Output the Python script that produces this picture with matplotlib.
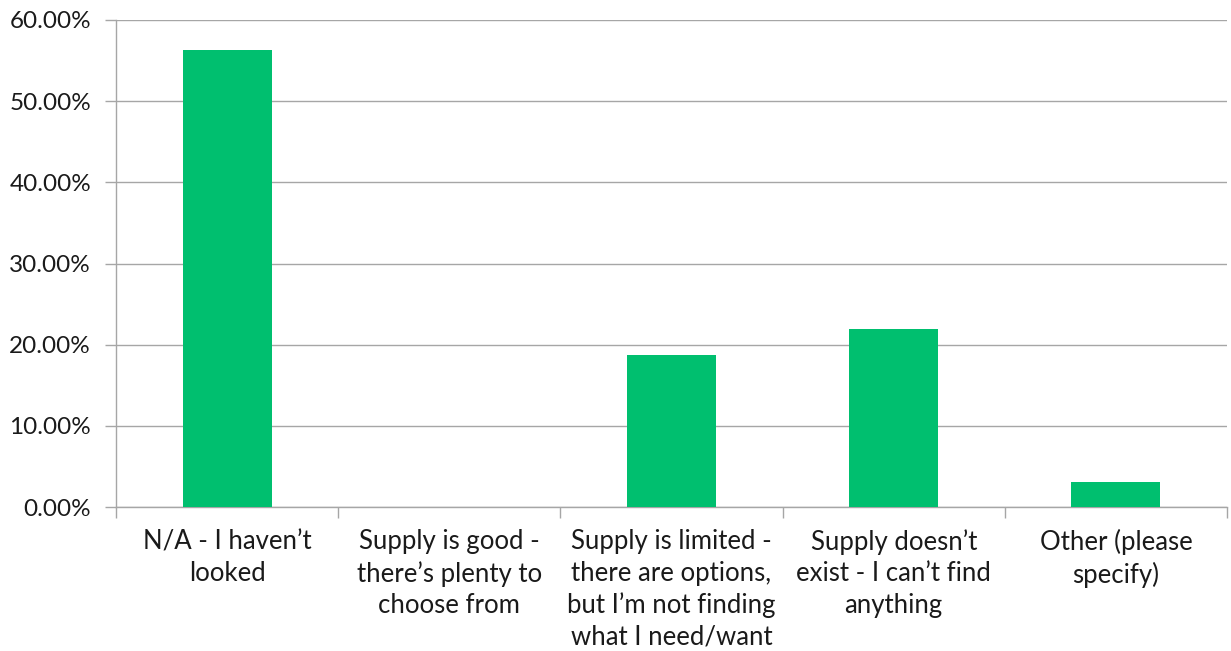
import matplotlib
matplotlib.use("Agg")
import matplotlib.pyplot as plt
from matplotlib.ticker import FuncFormatter, FixedLocator

categories = [
    "N/A - I haven\u2019t\nlooked",
    "Supply is good -\nthere\u2019s plenty to\nchoose from",
    "Supply is limited -\nthere are options,\nbut I\u2019m not finding\nwhat I need/want",
    "Supply doesn\u2019t\nexist - I can\u2019t find\nanything",
    "Other (please\nspecify)",
]
values = [56.25, 0.0, 18.75, 21.88, 3.13]
yticks = [0, 10, 20, 30, 40, 50, 60]

plt.rcParams['font.family'] = ['Lato', 'DejaVu Sans']

fig = plt.figure(figsize=(12.31, 6.51), dpi=100)
ax = fig.add_axes([116/1231, 1-507/651, (1227-116)/1231, (507-20)/651])

x = list(range(len(categories)))
ax.bar(x, values, width=0.4, color="#00BF6F", zorder=3)

ax.set_xlim(-0.5, len(categories) - 0.5)
ax.set_ylim(0, 60)
ax.set_yticks(yticks)
ax.yaxis.set_major_formatter(FuncFormatter(lambda v, p: f"{v:.2f}%"))
ax.grid(axis='y', color="#A6A6A6", linewidth=1.0, zorder=0)

ax.set_xticks(x)
ax.set_xticklabels(categories, fontsize=18.5, color="#1a1a1a", linespacing=1.32)
ax.xaxis.set_minor_locator(FixedLocator([i - 0.5 for i in range(len(categories) + 1)]))
ax.tick_params(axis='x', which='major', length=0, pad=16)
ax.tick_params(axis='x', which='minor', length=8, color="#A6A6A6", width=1)
ax.tick_params(axis='y', length=8, color="#A6A6A6", width=1, labelsize=17.5, labelcolor="#1a1a1a", pad=10)

for s in ['top', 'right']:
    ax.spines[s].set_visible(False)
for s in ['left', 'bottom']:
    ax.spines[s].set_color("#A6A6A6")
    ax.spines[s].set_linewidth(1)

fig.savefig("out.png", dpi=100, facecolor="white")
